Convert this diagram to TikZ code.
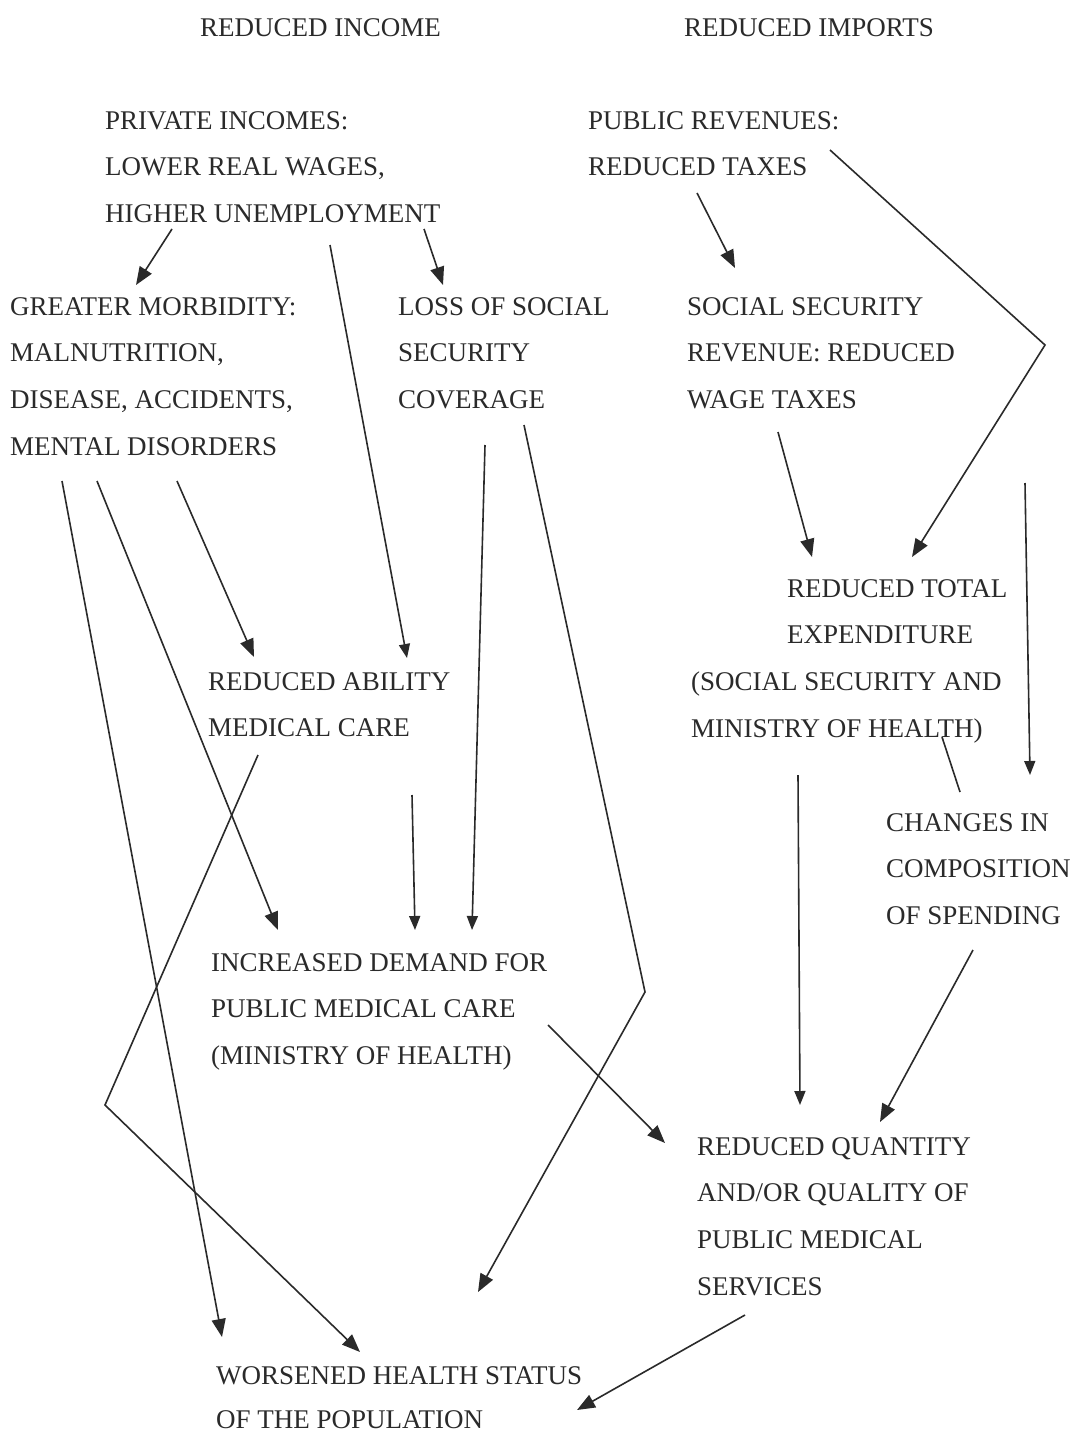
\documentclass[tikz,border=0pt]{standalone}
\usepackage{fontspec}
\setmainfont{Liberation Serif}
\usetikzlibrary{arrows.meta}
\definecolor{ink}{HTML}{2A2A2A}
\tikzset{
  lbl/.style={anchor=north west, inner sep=0pt, align=left, text=ink,
    font=\fontsize{27}{46.8}\selectfont},
  con/.style={draw=ink, line width=1.6pt, line join=miter},
  arr/.style={con, -{Triangle[length=18pt,width=14pt]}},
  sarr/.style={con, -{Triangle[length=14pt,width=11pt]}}
}
\begin{document}
\begin{tikzpicture}[x=1pt,y=-1pt]
\useasboundingbox (0,0) rectangle (1070,1434);
\fill[white] (0,0) rectangle (1070,1434);

% nodes
\node[lbl] (inc) at (200,18) {REDUCED INCOME};
\node[lbl] (imp) at (684,18) {REDUCED IMPORTS};
\node[lbl] (priv) at (105,111) {PRIVATE INCOMES:\\LOWER REAL WAGES,\\HIGHER UNEMPLOYMENT};
\node[lbl] (pub) at (588,111) {PUBLIC REVENUES:\\REDUCED TAXES};
\node[lbl] (morb) at (10,297) {GREATER MORBIDITY:\\MALNUTRITION,\\DISEASE, ACCIDENTS,\\MENTAL DISORDERS};
\node[lbl] (loss) at (398,297) {LOSS OF SOCIAL\\SECURITY\\COVERAGE};
\node[lbl] (ssr) at (687,297) {SOCIAL SECURITY\\REVENUE: REDUCED\\WAGE TAXES};
\node[lbl] (tot) at (691,579) {\hspace*{96pt}REDUCED TOTAL\\\hspace*{96pt}EXPENDITURE\\(SOCIAL SECURITY AND\\MINISTRY OF HEALTH)};
\node[lbl] (abil) at (208,672) {REDUCED ABILITY\\MEDICAL CARE};
\node[lbl] (chg) at (886,813) {CHANGES IN\\COMPOSITION\\OF SPENDING};
\node[lbl] (dem) at (211,953) {INCREASED DEMAND FOR\\PUBLIC MEDICAL CARE\\(MINISTRY OF HEALTH)};
\node[lbl] (qty) at (697,1137) {REDUCED QUANTITY\\AND/OR QUALITY OF\\PUBLIC MEDICAL\\SERVICES};
\node[lbl, font=\fontsize{27}{44.5}\selectfont] (wor) at (216,1366) {WORSENED HEALTH STATUS\\OF THE POPULATION};

% connector end points
\coordinate (p1) at (172,229);  \coordinate (m1) at (136,285);
\coordinate (p2) at (424,229);  \coordinate (l1) at (443,285);
\coordinate (p3) at (330,245);  \coordinate (ab1) at (407,658);
\coordinate (pu1) at (697,193); \coordinate (s1) at (735,268);
\coordinate (pu2) at (830,150); \coordinate (bend1) at (1045,345); \coordinate (t1) at (912,557);
\coordinate (s2) at (778,432);  \coordinate (t2) at (812,557);
\coordinate (free1) at (1025,483); \coordinate (c1) at (1030,775);
\coordinate (m2) at (177,481);  \coordinate (ab2) at (254,657);
\coordinate (m3) at (97,481);   \coordinate (d1) at (278,930);
\coordinate (m4) at (62,481);   \coordinate (w1) at (222,1337);
\coordinate (ab3) at (258,755); \coordinate (bend2) at (105,1105); \coordinate (w2) at (360,1352);
\coordinate (ab4) at (412,795); \coordinate (d2) at (415,930);
\coordinate (l2) at (485,445);  \coordinate (d3) at (472,930);
\coordinate (l3) at (524,425);  \coordinate (bend3) at (645,992); \coordinate (w3) at (478,1292);
\coordinate (t3) at (798,775);  \coordinate (q1) at (800,1105);
\coordinate (t4) at (942,737);  \coordinate (c2) at (960,792);
\coordinate (c3) at (973,950);  \coordinate (q2) at (880,1122);
\coordinate (d4) at (548,1025); \coordinate (q3) at (665,1143);
\coordinate (q4) at (745,1315); \coordinate (w4) at (577,1410);

% connectors
\draw[arr] (p1) -- (m1);
\draw[arr] (p2) -- (l1);
\draw[sarr] (p3) -- (ab1);
\draw[arr] (pu1) -- (s1);
\draw[arr] (pu2) -- (bend1) -- (t1);
\draw[arr] (s2) -- (t2);
\draw[sarr] (free1) -- (c1);
\draw[arr] (m2) -- (ab2);
\draw[arr] (m3) -- (d1);
\draw[arr] (m4) -- (w1);
\draw[arr] (ab3) -- (bend2) -- (w2);
\draw[sarr] (ab4) -- (d2);
\draw[sarr] (l2) -- (d3);
\draw[arr] (l3) -- (bend3) -- (w3);
\draw[sarr] (t3) -- (q1);
\draw[con] (t4) -- (c2);
\draw[arr] (c3) -- (q2);
\draw[arr] (d4) -- (q3);
\draw[arr] (q4) -- (w4);
\end{tikzpicture}
\end{document}
